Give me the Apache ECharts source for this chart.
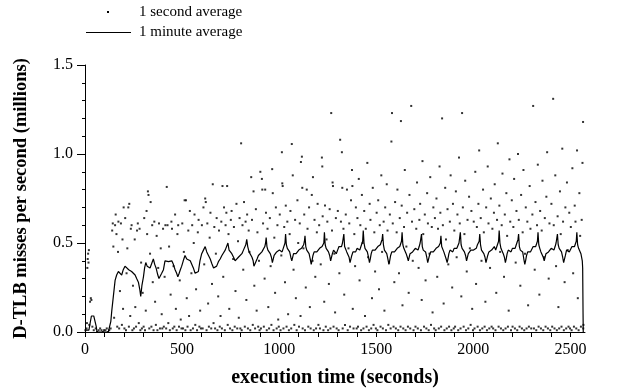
<!DOCTYPE html>
<html><head><meta charset="utf-8">
<script src="https://cdn.jsdelivr.net/npm/echarts@6/dist/echarts.min.js"></script>
<style>html,body{margin:0;padding:0;background:#fff}#c{width:624px;height:389px}</style>
</head><body><div id="c"></div>
<script>
const seriesNames = ['1 second average', '1 minute average'];
const xTicks = [0,100,200,300,400,500,600,700,800,900,1000,1100,1200,1300,1400,1500,1600,1700,1800,1900,2000,2100,2200,2300,2400,2500];
const xTickLabels = [0,500,1000,1500,2000,2500];
const yTickLabels = [0,0.5,1.0,1.5];

// 1 second average (sampled points as visible in the picture)
const secondAvg = [
[2,0.01],[8,0.02],[10,0.05],[12,0.36],[14,0.41],[16,0.44],[18,0.39],[20,0.46],[22,0.04],[26,0.17],[30,0.19],[33,0.18],[38,0.03],[45,0.01],[55,0.02],[62,0.0],[70,0.01],[78,0.02],[85,0.01],[92,0.0],[98,0.01],
[105,0.01],[112,0.02],[118,0.0],[125,0.01],[132,0.02],[140,0.57],[143,0.61],[146,0.48],[150,0.08],[155,0.60],[158,0.66],[162,0.55],[166,0.03],[170,0.45],[172,0.62],[176,0.02],[180,0.23],[185,0.61],[190,0.04],[193,0.52],[196,0.13],[199,0.70],
[203,0.02],[207,0.64],[211,0.01],[214,0.33],[218,0.47],[223,0.70],[226,0.03],[228,0.72],[233,0.09],[236,0.58],[240,0.60],[244,0.01],[247,0.26],[252,0.02],[256,0.52],[259,0.14],[263,0.03],[268,0.57],[272,0.61],[277,0.05],[281,0.58],[285,0.01],[289,0.39],[293,0.02],[297,0.22],
[302,0.03],[305,0.64],[309,0.01],[313,0.12],[317,0.68],[320,0.55],[324,0.79],[327,0.77],[331,0.02],[335,0.44],[338,0.73],[342,0.03],[346,0.60],[349,0.28],[353,0.01],[357,0.62],[361,0.17],[365,0.04],[369,0.54],[373,0.01],[377,0.36],[381,0.61],[386,0.02],[390,0.47],[395,0.10],[398,0.02],
[402,0.58],[406,0.03],[410,0.31],[414,0.60],[418,0.02],[421,0.815],[425,0.60],[429,0.05],[433,0.48],[437,0.01],[441,0.21],[445,0.62],[448,0.58],[452,0.02],[456,0.37],[460,0.03],[464,0.66],[468,0.13],[472,0.01],[476,0.55],[480,0.60],[484,0.03],[488,0.29],[493,0.07],[497,0.02],
[501,0.61],[505,0.02],[509,0.45],[513,0.74],[517,0.01],[520,0.74],[524,0.19],[528,0.03],[532,0.57],[536,0.09],[540,0.68],[544,0.01],[548,0.33],[552,0.60],[556,0.02],[560,0.50],[564,0.66],[568,0.04],[572,0.24],[577,0.01],[581,0.56],[585,0.63],[589,0.03],[593,0.12],[597,0.02],
[602,0.60],[606,0.02],[610,0.70],[614,0.38],[619,0.75],[622,0.73],[626,0.01],[630,0.61],[634,0.16],[638,0.03],[642,0.53],[646,0.67],[650,0.02],[654,0.27],[658,0.83],[662,0.05],[666,0.59],[670,0.02],[674,0.44],[678,0.64],[682,0.01],[686,0.20],[690,0.57],[694,0.03],[698,0.09],
[702,0.62],[705,0.02],[708,0.82],[712,0.31],[716,0.70],[720,0.01],[724,0.60],[728,0.67],[732,0.82],[735,0.04],[739,0.55],[743,0.13],[747,0.02],[751,0.63],[755,0.68],[759,0.01],[763,0.41],[767,0.59],[771,0.03],[775,0.23],[780,0.72],[784,0.02],[788,0.51],[792,0.08],[796,0.64],[800,0.02],
[804,1.06],[807,0.01],[811,0.60],[815,0.35],[819,0.73],[823,0.03],[827,0.62],[831,0.18],[835,0.66],[839,0.02],[843,0.57],[847,0.45],[851,0.01],[856,0.87],[860,0.63],[864,0.04],[868,0.79],[872,0.26],[876,0.02],[880,0.69],[884,0.12],[888,0.56],[892,0.03],[896,0.40],[899,0.01],
[903,0.90],[906,0.02],[911,0.86],[913,0.80],[917,0.61],[921,0.03],[925,0.30],[928,0.80],[932,0.67],[936,0.01],[940,0.58],[944,0.14],[948,0.02],[952,0.64],[956,0.37],[960,0.04],[964,0.915],[967,0.78],[971,0.01],[975,0.53],[979,0.22],[983,0.70],[987,0.02],[991,0.60],[995,0.07],[998,0.03],
[1003,0.66],[1007,0.01],[1011,0.43],[1014,1.01],[1016,0.835],[1018,0.82],[1022,0.02],[1026,0.59],[1030,0.28],[1034,0.71],[1038,0.03],[1042,0.62],[1046,0.10],[1050,0.01],[1054,0.55],[1058,0.68],[1062,0.02],[1065,1.056],[1070,0.88],[1074,0.35],[1078,0.04],[1082,0.63],[1086,0.19],[1090,0.01],[1094,0.74],[1098,0.50],
[1102,0.03],[1106,0.61],[1110,0.09],[1112,0.955],[1117,0.985],[1119,0.81],[1121,0.02],[1125,0.47],[1129,0.66],[1133,0.01],[1137,0.25],[1142,0.80],[1146,0.58],[1150,0.03],[1154,0.70],[1158,0.14],[1162,0.02],[1168,0.77],[1172,0.40],[1174,0.87],[1178,0.01],[1182,0.63],[1186,0.31],[1190,0.02],[1194,0.56],[1198,0.72],
[1202,0.04],[1206,0.60],[1210,0.02],[1214,0.38],[1220,0.98],[1222,0.93],[1224,0.65],[1228,0.01],[1232,0.17],[1236,0.71],[1240,0.03],[1244,0.52],[1248,0.62],[1252,0.01],[1256,0.27],[1260,0.69],[1264,0.02],[1268,1.23],[1272,0.57],[1275,0.84],[1277,0.82],[1280,0.03],[1284,0.44],[1288,0.11],[1292,0.64],[1296,0.02],
[1302,0.68],[1306,0.01],[1310,0.33],[1314,1.08],[1318,0.62],[1323,1.01],[1325,0.81],[1327,0.02],[1331,0.58],[1335,0.21],[1339,0.04],[1343,0.66],[1349,0.80],[1353,0.01],[1357,0.47],[1361,0.61],[1365,0.03],[1370,0.74],[1375,0.91],[1377,0.82],[1379,0.13],[1383,0.02],[1387,0.55],[1391,0.37],[1395,0.70],[1399,0.02],
[1403,0.64],[1406,0.03],[1410,0.86],[1414,0.29],[1418,0.60],[1422,0.01],[1426,0.77],[1430,0.50],[1434,0.02],[1438,0.68],[1442,0.09],[1446,0.58],[1450,0.03],[1454,0.95],[1458,0.42],[1462,0.01],[1466,0.72],[1470,0.63],[1474,0.02],[1478,0.19],[1482,0.81],[1486,0.04],[1490,0.56],[1494,0.34],[1498,0.02],
[1502,0.67],[1506,0.01],[1510,0.74],[1514,0.24],[1518,0.60],[1522,0.03],[1526,0.88],[1530,0.45],[1534,0.02],[1538,0.62],[1542,0.12],[1546,0.70],[1550,0.01],[1554,0.83],[1558,0.57],[1562,0.04],[1566,0.39],[1570,0.66],[1574,0.02],[1578,1.07],[1581,1.23],[1585,0.61],[1589,0.03],[1593,0.28],[1597,0.73],
[1601,0.02],[1605,0.56],[1609,0.80],[1613,0.01],[1617,0.33],[1621,0.64],[1625,0.03],[1627,1.185],[1631,0.71],[1635,0.15],[1639,0.02],[1643,0.59],[1647,0.91],[1651,0.01],[1655,0.48],[1659,0.67],[1663,0.03],[1667,0.22],[1671,0.77],[1675,0.02],[1680,1.27],[1684,0.62],[1688,0.40],[1692,0.01],[1696,0.69],
[1702,0.03],[1706,0.58],[1710,0.84],[1714,0.02],[1718,0.36],[1722,0.63],[1726,0.72],[1730,0.01],[1734,0.18],[1738,0.96],[1742,0.55],[1746,0.03],[1750,0.66],[1754,0.29],[1758,0.02],[1762,0.78],[1766,0.61],[1770,0.01],[1774,0.44],[1778,0.87],[1782,0.04],[1786,0.59],[1790,0.11],[1794,0.70],[1798,0.02],
[1802,0.64],[1806,0.01],[1810,0.75],[1814,0.31],[1818,0.58],[1822,0.02],[1826,0.93],[1830,0.67],[1834,0.03],[1839,1.20],[1843,0.60],[1847,0.16],[1851,0.01],[1855,0.81],[1859,0.52],[1863,0.02],[1867,0.69],[1871,0.38],[1875,0.03],[1879,0.62],[1883,0.88],[1887,0.01],[1891,0.25],[1895,0.72],[1899,0.02],
[1902,0.57],[1906,0.03],[1910,0.79],[1914,0.42],[1918,0.66],[1922,0.01],[1926,0.98],[1930,0.61],[1934,0.02],[1938,0.20],[1942,1.23],[1946,0.70],[1950,0.03],[1954,0.55],[1958,0.85],[1962,0.01],[1966,0.34],[1970,0.63],[1974,0.02],[1978,0.76],[1982,0.47],[1986,0.04],[1990,0.68],[1994,0.13],[1998,0.01],
[2002,0.62],[2006,0.02],[2010,0.90],[2014,0.27],[2018,0.59],[2022,0.03],[2026,0.72],[2030,1.02],[2034,0.01],[2038,0.64],[2042,0.40],[2046,0.02],[2050,0.80],[2054,0.56],[2058,0.03],[2062,0.17],[2066,0.70],[2070,0.01],[2074,0.93],[2078,0.61],[2082,0.02],[2086,0.36],[2090,0.75],[2094,0.03],[2098,0.58],
[2102,0.02],[2106,0.67],[2110,0.83],[2114,0.01],[2118,0.22],[2122,0.63],[2126,1.06],[2130,0.03],[2134,0.71],[2138,0.45],[2142,0.02],[2146,0.60],[2150,0.89],[2154,0.01],[2158,0.31],[2162,0.66],[2166,0.02],[2170,0.78],[2174,0.54],[2178,0.03],[2182,0.12],[2186,0.97],[2190,0.62],[2194,0.01],[2198,0.74],
[2202,0.03],[2206,0.59],[2210,0.86],[2214,0.02],[2218,0.39],[2222,0.68],[2226,0.01],[2230,1.00],[2234,0.63],[2238,0.03],[2242,0.26],[2246,0.77],[2250,0.02],[2254,0.56],[2258,0.91],[2262,0.01],[2266,0.44],[2270,0.70],[2274,0.02],[2278,0.62],[2282,0.15],[2286,0.03],[2290,0.82],[2294,0.58],[2298,0.02],
[2304,0.66],[2308,1.27],[2312,0.02],[2316,0.35],[2320,0.73],[2324,0.01],[2328,0.60],[2332,0.94],[2336,0.03],[2340,0.21],[2344,0.68],[2348,0.02],[2352,0.57],[2356,0.85],[2360,0.01],[2364,0.42],[2368,0.64],[2372,0.03],[2376,0.76],[2380,1.01],[2384,0.02],[2388,0.30],[2392,0.61],[2396,0.01],
[2402,0.72],[2406,0.03],[2411,1.31],[2414,0.60],[2418,0.02],[2422,0.88],[2426,0.37],[2430,0.01],[2434,0.65],[2438,0.14],[2442,0.02],[2446,0.79],[2450,0.55],[2454,0.03],[2458,1.03],[2462,0.62],[2466,0.01],[2470,0.28],[2474,0.70],[2478,0.02],[2482,0.84],[2486,0.46],[2490,0.03],[2494,0.67],[2498,0.02],
[2502,0.59],[2506,0.01],[2510,0.92],[2514,0.33],[2518,0.03],[2522,0.71],[2526,0.62],[2530,0.02],[2534,1.02],[2538,0.19],[2542,0.01],[2546,0.78],[2550,0.54],[2554,0.03],[2558,0.63],[2562,0.95],[2565,1.18],[2566,0.02],[2567,0.04]
];

// 1 minute average
const minuteAvg = [
[0,0.01],[10,0.01],[20,0.01],[30,0.01],[33,0.09],[45,0.09],[53,0.09],[58,0.03],[62,0.0],[80,0.0],[100,0.0],[120,0.0],[128,0.01],[133,0.06],[138,0.12],[146,0.2],[155,0.29],[163,0.32],[172,0.34],[180,0.33],[189,0.32],[197,0.35],[206,0.37],[215,0.36],[225,0.35],[232,0.35],[240,0.34],[250,0.33],[258,0.32],[266,0.30],[275,0.28],[282,0.24],[287,0.20],[293,0.26],[301,0.31],[307,0.36],[313,0.39],[320,0.37],[326,0.37],[335,0.36],[344,0.37],[352,0.41],[359,0.38],[366,0.36],[375,0.32],[381,0.30],[387,0.29],[395,0.33],[404,0.35],[412,0.40],[420,0.39],[430,0.395],[438,0.39],[447,0.40],[455,0.38],[464,0.35],[472,0.33],[478,0.31],[485,0.33],[491,0.35],[498,0.37],[506,0.40],[515,0.43],[524,0.41],[533,0.41],[542,0.40],[550,0.395],[558,0.36],[567,0.33],[575,0.33],[584,0.34],[592,0.40],[601,0.44],[610,0.46],[619,0.48],[627,0.45],[636,0.43],[645,0.41],[653,0.385],[662,0.36],[670,0.35],[678,0.37],[687,0.395],[696,0.41],[705,0.43],[713,0.44],[722,0.46],[730,0.47],[736,0.50],[742,0.46],[750,0.45],[756,0.44],[765,0.42],[773,0.40],[782,0.41],[790,0.42],[800,0.43],[808,0.44],[816,0.46],[822,0.47],[828,0.49],[833,0.52],[838,0.48],[845,0.45],[851,0.44],[860,0.42],[866,0.40],[870,0.37],[875,0.36],[880,0.38],[886,0.41],[893,0.43],[902,0.44],[911,0.45],[920,0.46],[926,0.48],[930,0.50],
[933,0.53],[937,0.48],[942,0.46],[948,0.45],[954,0.44],[960,0.42],[965,0.39],[969,0.40],[974,0.43],[980,0.44],[987,0.45],[994,0.44],[1001,0.46],[1008,0.46],[1015,0.45],[1021,0.47],[1026,0.48],[1030,0.50],
[1033,0.55],[1037,0.49],[1042,0.47],[1048,0.46],[1054,0.45],[1060,0.42],[1065,0.40],[1069,0.41],[1074,0.44],[1080,0.45],[1087,0.44],[1094,0.45],[1101,0.46],[1108,0.47],[1115,0.47],[1121,0.48],[1126,0.49],[1130,0.51],
[1133,0.54],[1137,0.48],[1142,0.46],[1148,0.46],[1154,0.44],[1160,0.41],[1165,0.38],[1169,0.40],[1174,0.43],[1180,0.45],[1187,0.46],[1194,0.45],[1201,0.46],[1208,0.47],[1215,0.46],[1221,0.48],[1226,0.49],[1230,0.50],
[1233,0.56],[1237,0.49],[1242,0.47],[1248,0.46],[1254,0.45],[1260,0.43],[1265,0.40],[1269,0.41],[1274,0.44],[1280,0.46],[1287,0.45],[1294,0.44],[1301,0.46],[1308,0.48],[1315,0.47],[1321,0.48],[1326,0.50],[1330,0.51],
[1333,0.55],[1337,0.48],[1342,0.47],[1348,0.45],[1354,0.44],[1360,0.42],[1365,0.39],[1369,0.40],[1374,0.43],[1380,0.45],[1387,0.46],[1394,0.45],[1401,0.47],[1408,0.47],[1415,0.46],[1421,0.48],[1426,0.49],[1430,0.51],
[1433,0.57],[1437,0.50],[1442,0.47],[1448,0.46],[1454,0.45],[1460,0.42],[1465,0.39],[1469,0.41],[1474,0.44],[1480,0.46],[1487,0.45],[1494,0.46],[1501,0.47],[1508,0.48],[1515,0.47],[1521,0.49],[1526,0.50],[1530,0.52],
[1533,0.55],[1537,0.49],[1542,0.46],[1548,0.45],[1554,0.44],[1560,0.41],[1565,0.38],[1569,0.40],[1574,0.43],[1580,0.45],[1587,0.46],[1594,0.45],[1601,0.46],[1608,0.47],[1615,0.47],[1621,0.48],[1626,0.49],[1630,0.51],
[1633,0.56],[1637,0.49],[1642,0.47],[1648,0.46],[1654,0.44],[1660,0.42],[1665,0.40],[1669,0.41],[1674,0.44],[1680,0.45],[1687,0.45],[1694,0.46],[1701,0.47],[1708,0.47],[1715,0.46],[1721,0.48],[1726,0.50],[1730,0.51],
[1733,0.55],[1737,0.48],[1742,0.46],[1748,0.46],[1754,0.45],[1760,0.42],[1765,0.39],[1769,0.40],[1774,0.43],[1780,0.45],[1787,0.44],[1794,0.45],[1801,0.46],[1808,0.47],[1815,0.47],[1821,0.48],[1826,0.49],[1830,0.50],
[1833,0.54],[1837,0.48],[1842,0.47],[1848,0.45],[1854,0.44],[1860,0.41],[1865,0.39],[1869,0.41],[1874,0.44],[1880,0.46],[1887,0.45],[1894,0.45],[1901,0.47],[1908,0.48],[1915,0.47],[1921,0.48],[1926,0.50],[1930,0.51],
[1933,0.56],[1937,0.49],[1942,0.47],[1948,0.46],[1954,0.45],[1960,0.43],[1965,0.40],[1969,0.41],[1974,0.44],[1980,0.45],[1987,0.46],[1994,0.45],[2001,0.46],[2008,0.47],[2015,0.47],[2021,0.49],[2026,0.50],[2030,0.51],
[2033,0.55],[2037,0.49],[2042,0.46],[2048,0.45],[2054,0.44],[2060,0.42],[2065,0.39],[2069,0.40],[2074,0.43],[2080,0.45],[2087,0.45],[2094,0.46],[2101,0.47],[2108,0.48],[2115,0.46],[2121,0.48],[2126,0.49],[2130,0.51],
[2133,0.57],[2137,0.50],[2142,0.47],[2148,0.46],[2154,0.44],[2160,0.42],[2165,0.39],[2169,0.41],[2174,0.44],[2180,0.46],[2187,0.45],[2194,0.45],[2201,0.47],[2208,0.47],[2215,0.47],[2221,0.49],[2226,0.50],[2230,0.52],
[2233,0.55],[2237,0.48],[2242,0.46],[2248,0.46],[2254,0.45],[2260,0.41],[2265,0.38],[2269,0.40],[2274,0.43],[2280,0.45],[2287,0.46],[2294,0.45],[2301,0.46],[2308,0.48],[2315,0.47],[2321,0.48],[2326,0.49],[2330,0.51],
[2333,0.56],[2337,0.49],[2342,0.47],[2348,0.45],[2354,0.44],[2360,0.42],[2365,0.40],[2369,0.41],[2374,0.44],[2380,0.45],[2387,0.45],[2394,0.46],[2401,0.47],[2408,0.47],[2415,0.46],[2421,0.48],[2426,0.50],[2430,0.51],
[2433,0.55],[2437,0.49],[2442,0.47],[2448,0.46],[2454,0.45],[2460,0.42],[2465,0.39],[2469,0.40],[2474,0.43],[2480,0.46],[2487,0.45],[2494,0.45],[2501,0.46],[2508,0.48],[2515,0.47],[2521,0.48],[2526,0.49],[2530,0.51],
[2533,0.56],[2537,0.49],[2542,0.47],[2548,0.46],[2554,0.44],[2557,0.43],[2561,0.40],[2563,0.36],[2565,0.10],[2566,0.0]
];

const FONT = 'Liberation Serif';
const chart = echarts.init(document.getElementById('c'));
chart.setOption({
  animation: false,
  backgroundColor: '#fff',
  grid: { left: 85, right: 39, top: 65, bottom: 57, containLabel: false, outerBoundsMode: 'none' },
  graphic: [
    { type: 'rect', left: 107, top: 11, shape: { width: 2, height: 2 }, style: { fill: '#000' }, silent: true },
    { type: 'text', left: 139, top: 5, style: { text: seriesNames[0], font: '15px "Liberation Serif"', fill: '#000' }, silent: true },
    { type: 'line', shape: { x1: 86, y1: 32.5, x2: 131, y2: 32.5 }, style: { stroke: '#000', lineWidth: 1.2 }, silent: true },
    { type: 'text', left: 139, top: 25, style: { text: seriesNames[1], font: '15px "Liberation Serif"', fill: '#000' }, silent: true }
  ],
  xAxis: {
    type: 'value', min: 0, max: 2575,
    name: 'execution time (seconds)', nameLocation: 'middle', nameGap: 36,
    nameTextStyle: { fontFamily: FONT, fontSize: 20, fontWeight: 'bold', color: '#000' },
    axisLine: { show: true, onZero: false, lineStyle: { color: '#000', width: 1 } },
    axisTick: { show: true, inside: false, length: 5, customValues: xTicks, lineStyle: { color: '#000' } },
    axisLabel: { show: true, margin: 10, customValues: xTickLabels, fontFamily: FONT, fontSize: 16, color: '#000',
      formatter: v => String(v) },
    splitLine: { show: false }
  },
  yAxis: {
    type: 'value', min: 0, max: 1.5, interval: 0.5,
    name: 'D-TLB misses per second (millions)', nameLocation: 'middle', nameGap: 54,
    nameTextStyle: { fontFamily: FONT, fontSize: 18.5, fontWeight: 'bold', color: '#000' },
    axisLine: { show: true, onZero: false, lineStyle: { color: '#000', width: 1 } },
    axisTick: { show: true, inside: false, length: 8, lineStyle: { color: '#000' } },
    minorTick: { show: true, splitNumber: 5, length: 3, lineStyle: { color: '#000' } },
    axisLabel: { margin: 12, fontFamily: FONT, fontSize: 16, color: '#000',
      formatter: v => (yTickLabels.indexOf(v) >= 0 ? v.toFixed(1) : '') },
    splitLine: { show: false }
  },
  series: [
    { name: seriesNames[0], type: 'scatter', data: secondAvg, symbol: 'rect', symbolSize: 2,
      itemStyle: { color: '#000' }, z: 2, silent: true },
    { name: seriesNames[1], type: 'line', data: minuteAvg, symbol: 'none', showSymbol: false,
      lineStyle: { color: '#000', width: 1.2 }, itemStyle: { color: '#000' }, z: 3, silent: true }
  ]
});
</script>
</body></html>
